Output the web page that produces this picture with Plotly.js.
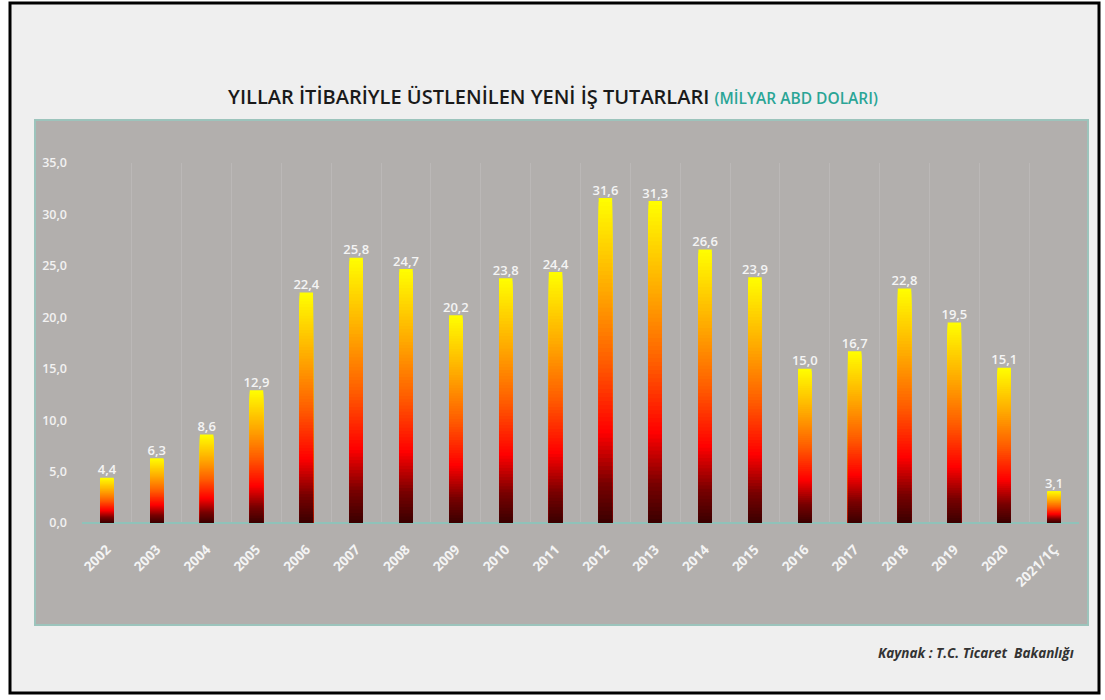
<!DOCTYPE html>
<html>
<head>
<meta charset="utf-8">
<script src="https://cdn.plot.ly/plotly-3.0.1.min.js"></script>
<style>
  html, body { margin: 0; padding: 0; background: #ffffff; }
  #chart { width: 1105px; height: 700px; }
</style>
</head>
<body>
<div id="chart"></div>
<script>
// ---- data ----
const years = ["2002","2003","2004","2005","2006","2007","2008","2009","2010","2011",
               "2012","2013","2014","2015","2016","2017","2018","2019","2020","2021/1Ç"];
const amounts = [4.4, 6.3, 8.6, 12.9, 22.4, 25.8, 24.7, 20.2, 23.8, 24.4,
                 31.6, 31.3, 26.6, 23.9, 15.0, 16.7, 22.8, 19.5, 15.1, 3.1];
const yTicks = [0, 5, 10, 15, 20, 25, 30, 35];

const titleMain = "YILLAR İTİBARİYLE ÜSTLENİLEN YENİ İŞ TUTARLARI";
const titleUnit = "(MİLYAR ABD DOLARI)";
const sourceText = "Kaynak : T.C. Ticaret  Bakanlığı";

// ---- gradient (bottom -> top) ----
const stops = [
  [0.00, [58, 0, 0]],
  [0.12, [120, 0, 0]],
  [0.28, [255, 0, 0]],
  [0.50, [255, 95, 0]],
  [0.72, [255, 170, 0]],
  [1.00, [255, 255, 0]]
];
function grad(t) {
  for (let i = 1; i < stops.length; i++) {
    if (t <= stops[i][0]) {
      const [t0, c0] = stops[i - 1], [t1, c1] = stops[i];
      const f = (t - t0) / (t1 - t0);
      const c = c0.map((v, j) => Math.round(v + (c1[j] - v) * f));
      return `rgb(${c[0]},${c[1]},${c[2]})`;
    }
  }
  const c = stops[stops.length - 1][1];
  return `rgb(${c[0]},${c[1]},${c[2]})`;
}

const N = 80;
const traces = [];
for (let k = 0; k < N; k++) {
  const frac = (N - k) / N;
  traces.push({
    type: "bar",
    x: years,
    y: amounts.map(v => v * frac),
    marker: { color: grad((N - k - 0.5) / N), line: { width: 0 } },
    hoverinfo: "skip",
    showlegend: false
  });
}
traces.push({
  type: "scatter",
  mode: "text",
  x: years,
  y: amounts,
  text: amounts.map(v => v.toFixed(1).replace(".", ",")),
  textposition: "top center",
  textfont: { family: "Open Sans", size: 13, color: "#f4f4f4", weight: 600 },
  cliponaxis: false,
  hoverinfo: "skip",
  showlegend: false
});

// plot area in pixels: x 82..1079, y 163..523
const L = 82, R = 1079, T = 163, B = 523;
const px = v => (v - L) / (R - L);
const py = v => (B - v) / (B - T);

const layout = {
  width: 1105,
  height: 700,
  margin: { l: L, r: 1105 - R, t: T, b: 700 - B, pad: 0, autoexpand: false },
  paper_bgcolor: "#ffffff",
  plot_bgcolor: "rgba(0,0,0,0)",
  barmode: "overlay",
  bargap: 0.73,
  separators: ",.",
  title: {
    text: titleMain + " <span style='color:#2aa596;font-size:15.5px'>" + titleUnit + "</span>",
    font: { family: "Open Sans", size: 20, color: "#1a1a1a", weight: 600 },
    x: 553 / 1105, xanchor: "center", xref: "container",
    y: 1 - 97 / 700, yanchor: "middle", yref: "container"
  },
  xaxis: {
    type: "category",
    range: [-0.5, years.length - 0.5],
    automargin: false,
    tickson: "boundaries",
    showgrid: true,
    gridcolor: "rgba(255,255,255,0.12)",
    gridwidth: 1,
    ticks: "",
    tickangle: -45,
    ticklabelstandoff: 15,
    tickfont: { family: "Open Sans", size: 13.5, color: "#f4f4f4", weight: 700 },
    showline: false,
    zeroline: false,
    fixedrange: true
  },
  yaxis: {
    range: [0, 35],
    automargin: false,
    tickvals: yTicks,
    tickformat: ".1f",
    showgrid: false,
    zeroline: true,
    zerolinecolor: "#8fc2b9",
    zerolinewidth: 2,
    ticks: "",
    ticklabelstandoff: 14,
    tickfont: { family: "Open Sans", size: 12.5, color: "#f2f2f2", weight: 600 },
    showline: false,
    fixedrange: true
  },
  shapes: [
    { type: "rect", xref: "paper", yref: "paper", layer: "below",
      x0: px(10), x1: px(1099), y0: py(693), y1: py(3),
      fillcolor: "#efefef", line: { color: "#000000", width: 3 } },
    { type: "rect", xref: "paper", yref: "paper", layer: "below",
      x0: px(35), x1: px(1088), y0: py(625), y1: py(120),
      fillcolor: "#b2afad", line: { color: "#9cc4bc", width: 2 } }
  ],
  annotations: [
    { xref: "paper", yref: "paper", x: px(1076), y: py(653),
      xanchor: "right", yanchor: "middle", showarrow: false,
      text: sourceText,
      font: { family: "Open Sans", size: 13.5, color: "#333333", weight: 700, style: "italic" } }
  ]
};

Plotly.newPlot("chart", traces, layout, { displayModeBar: false, staticPlot: true });
</script>
</body>
</html>
